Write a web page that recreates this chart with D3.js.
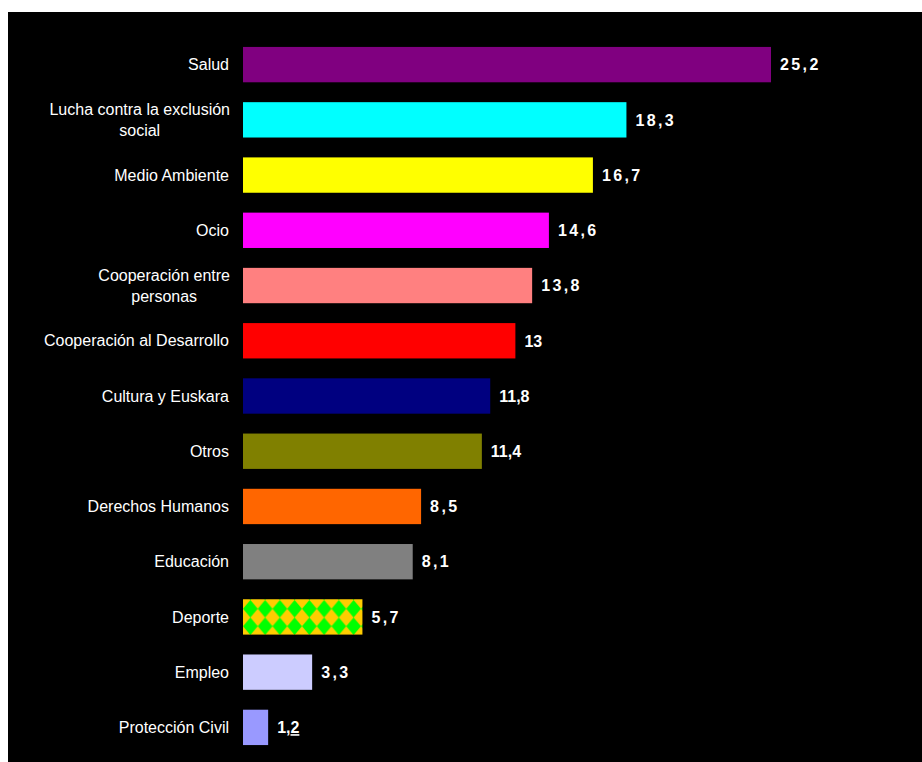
<!DOCTYPE html>
<html><head><meta charset="utf-8">
<script src="https://cdn.jsdelivr.net/npm/d3@7"></script>
<style>body{margin:0;background:#fff}svg{display:block}</style>
</head><body>
<script>
const categories = ["Salud","Lucha contra la exclusión social","Medio Ambiente","Ocio","Cooperación entre personas","Cooperación al Desarrollo","Cultura y Euskara","Otros","Derechos Humanos","Educación","Deporte","Empleo","Protección Civil"];
const labelLines = [["Salud"],["Lucha contra la exclusión","social"],["Medio Ambiente"],["Ocio"],["Cooperación entre","personas"],["Cooperación al Desarrollo"],["Cultura y Euskara"],["Otros"],["Derechos Humanos"],["Educación"],["Deporte"],["Empleo"],["Protección Civil"]];
const values = [25.2,18.3,16.7,14.6,13.8,13,11.8,11.4,8.5,8.1,5.7,3.3,1.2];
const colors = ["#800080","#00FFFF","#FFFF00","#FF00FF","#FF8080","#FF0000","#000080","#808000","#FF6600","#808080","url(#diamonds)","#CCCCFF","#9999FF"];

const W=922,H=762;
const svg=d3.select("body").append("svg").attr("width",W).attr("height",H);
const defs=svg.append("defs");
const pat=defs.append("pattern").attr("id","diamonds").attr("patternUnits","userSpaceOnUse")
  .attr("width",14.75).attr("height",17.5).attr("x",243).attr("y",600);
pat.append("rect").attr("width",14.75).attr("height",17.5).attr("fill","#FFCC00");
pat.append("path").attr("d","M7.375,0 L14.75,8.75 L7.375,17.5 L0,8.75 Z").attr("fill","#00FF00");

svg.append("rect").attr("x",8).attr("y",12).attr("width",W-8).attr("height",H-12).attr("fill","#000");

const x=d3.scaleLinear().domain([0,25.2]).range([243,771]);
const y=d3.scaleBand().domain(categories).range([37,755]).paddingInner(0.36).paddingOuter(0.18);

svg.selectAll("rect.bar").data(categories).join("rect").attr("class","bar")
  .attr("x",x(0)).attr("y",d=>y(d)).attr("height",y.bandwidth())
  .attr("width",(d,i)=>x(values[i])-x(0)).attr("fill",(d,i)=>colors[i]);

const font="'Liberation Sans', Arial, sans-serif";
const fs=16;
categories.forEach((c,i)=>{
  const cy=y(c)+y.bandwidth()/2;
  const lines=labelLines[i];
  if(lines.length===1){
    svg.append("text").attr("x",229).attr("y",cy).attr("dy","0.35em").attr("text-anchor","end")
      .attr("font-family",font).attr("font-size",fs).attr("fill","#fff").text(lines[0]);
  } else {
    const t=svg.append("text").attr("font-family",font).attr("font-size",fs).attr("fill","#fff").attr("text-anchor","middle");
    const tmp=svg.append("text").attr("font-family",font).attr("font-size",fs).text(lines[0]);
    const w=tmp.node().getComputedTextLength(); tmp.remove();
    const cx=230-w/2;
    lines.forEach((l,k)=>{
      t.append("tspan").attr("x",cx).attr("y",cy+(k-(lines.length-1)/2)*21).attr("dy","0.35em").text(l);
    });
  }
  const fmt=String(values[i]).replace(".",",");
  const tight = values[i]===13||values[i]===1.2||values[i]===11.8||values[i]===11.4;
  const vt=svg.append("text").attr("x",x(values[i])+9).attr("y",cy).attr("dy","0.36em")
    .attr("font-family",font).attr("font-size",16).attr("font-weight","bold").attr("fill","#fff")
    .attr("letter-spacing", tight?0:2.4);
  if(values[i]===1.2){
    vt.append("tspan").text("1,");
    vt.append("tspan").attr("text-decoration","underline").text("2");
  } else vt.text(fmt);
});
</script>
</body></html>
